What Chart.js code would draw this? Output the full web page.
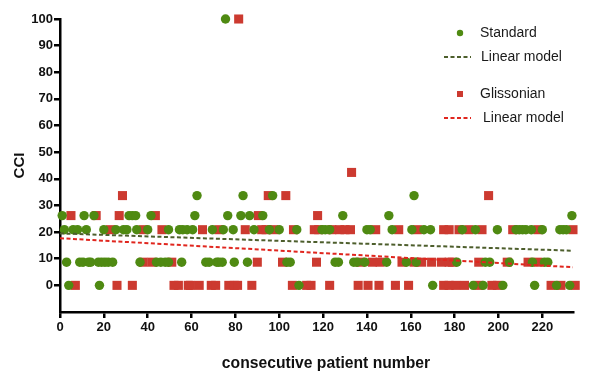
<!DOCTYPE html>
<html>
<head>
<meta charset="utf-8">
<script src="https://cdn.jsdelivr.net/npm/chart.js@4.4.0/dist/chart.umd.min.js"></script>
<style>
    html, body { margin: 0; padding: 0; background: #fff; }
    #wrap { width: 589px; height: 373px; position: relative; }
</style>
</head>
<body>
<div id="wrap"><canvas id="cci-chart"></canvas></div>
<script>
// CCI values that occur (rows of points)
const cciLevels = [0, 8.7, 20.9, 26.2, 33.7, 42.4, 100];

// consecutive patient numbers per CCI level, same order as cciLevels
const standardPatients = [
    [4, 18, 109, 170, 188.5, 193, 202, 216.5, 226.5, 232.5],
    [3, 9, 10.5, 13, 14, 17.5, 19, 20.5, 22, 24, 36.5, 44, 46, 48, 49.5, 55.5, 66.5, 68, 71.5, 72.5, 74, 79.5, 85.5,
        103.5, 105, 125.5, 127, 134, 135.5, 139, 149, 158, 162.5, 181, 194, 196, 205, 215.5, 221, 222.5],
    [2, 6, 8, 12, 20, 25.5, 29, 30.5, 35, 40, 49.5, 54.5, 56, 58, 60.5, 69.5, 74.5, 79, 88.5, 95.5, 100, 108,
        119.5, 121, 123, 140, 141.5, 151.5, 160.5, 166, 169, 183.5, 189.5, 199.5, 208, 209.5, 211, 212.5, 215,
        220, 228, 229.5, 231],
    [1, 11, 15.5, 31.5, 33, 34.5, 41.5, 61.5, 76.5, 82.5, 86.5, 92.5, 129, 150, 233.5],
    [62.5, 83.5, 97, 161.5],
    [],
    [75.5]
];
const glissonianPatients = [
    [7, 26, 33, 52, 54, 58.5, 59.5, 63.5, 69, 71, 77, 79.5, 81, 87.5, 106, 112.5, 114.5, 123, 136, 140.5, 145.5,
        153, 159, 175, 177.5, 180.5, 184.5, 191, 197, 199.5, 224, 228.5, 235],
    [38, 42, 51, 90, 101.5, 117, 137, 142.5, 146, 156, 161.5, 165, 169.5, 174, 177.5, 179, 191, 204, 213.5, 218],
    [23, 38, 46.5, 65, 72.5, 84.5, 92, 94, 97.5, 106.5, 116, 118, 124, 127.5, 130, 132.5, 144, 154.5, 163, 175,
        177.5, 182, 186.5, 192.5, 206.5, 218, 234],
    [5, 16.5, 27, 43.5, 90.5, 117.5],
    [28.5, 95, 103, 195.5],
    [133],
    [81.5]
];

// linear model end points
const trendX = [0, 234];
const standardTrend = [19.5, 13.0];
const glissonianTrend = [17.7, 6.8];

const xTicks = [0, 20, 40, 60, 80, 100, 120, 140, 160, 180, 200, 220];
const yTicks = [0, 10, 20, 30, 40, 50, 60, 70, 80, 90, 100];

const green = '#4f8a12';
const red = '#cc3a30';
const fontFamily = '"Liberation Sans", Arial, sans-serif';

function toPoints(groups) {
    let points = [];
    for (let i = 0; i < groups.length; i++) {
        for (const x of groups[i]) {
            points.push({x: x, y: cciLevels[i]});
        }
    }
    return points;
}

function toLine(values) {
    return trendX.map((x, i) => ({x: x, y: values[i]}));
}

// legend and x title drawn by hand, both sit off the default spots
const legendPlugin = {
    id: 'handLegend',
    afterDraw(chart) {
        const ctx = chart.ctx;
        ctx.save();
        ctx.textBaseline = 'middle';

        // x axis title, a bit right of the plot centre like the original
        ctx.font = 'bold 15.7px ' + fontFamily;
        ctx.fillStyle = '#111';
        ctx.textAlign = 'center';
        ctx.fillText('consecutive patient number', 326, 364);

        ctx.textAlign = 'left';
        ctx.font = '14px ' + fontFamily;

        ctx.beginPath();
        ctx.arc(460, 33, 3.2, 0, Math.PI * 2);
        ctx.fillStyle = green;
        ctx.fill();
        ctx.fillStyle = '#1a1a1a';
        ctx.fillText('Standard', 480, 33);

        ctx.setLineDash([4, 2.5]);
        ctx.lineWidth = 2;
        ctx.strokeStyle = '#4d5e2c';
        ctx.beginPath();
        ctx.moveTo(444, 57);
        ctx.lineTo(471, 57);
        ctx.stroke();
        ctx.fillText('Linear model', 481, 57);

        ctx.fillStyle = red;
        ctx.fillRect(457, 91, 6, 6);
        ctx.fillStyle = '#1a1a1a';
        ctx.fillText('Glissonian', 480, 94);

        ctx.strokeStyle = '#e0261e';
        ctx.beginPath();
        ctx.moveTo(444, 118);
        ctx.lineTo(471, 118);
        ctx.stroke();
        ctx.fillText('Linear model', 483, 118);
        ctx.restore();
    }
};

const tickFont = {family: fontFamily, size: 13, weight: 'bold'};
const titleFont = {family: fontFamily, size: 15, weight: 'bold'};

new Chart(document.querySelector('#cci-chart'), {
    type: 'scatter',
    data: {
        datasets: [
            {
                type: 'line',
                label: 'Linear model (Glissonian)',
                data: toLine(glissonianTrend),
                borderColor: '#e0261e',
                borderWidth: 2,
                borderDash: [4, 2.5],
                pointRadius: 0,
                fill: false,
                order: 1,
            },
            {
                type: 'line',
                label: 'Linear model (Standard)',
                data: toLine(standardTrend),
                borderColor: '#4d5e2c',
                borderWidth: 2,
                borderDash: [4, 2.5],
                pointRadius: 0,
                fill: false,
                order: 2,
            },
            {
                label: 'Standard',
                data: toPoints(standardPatients),
                pointStyle: 'circle',
                pointRadius: 4.7,
                pointBorderWidth: 0,
                backgroundColor: green,
                borderColor: green,
                order: 3,
            },
            {
                label: 'Glissonian',
                data: toPoints(glissonianPatients),
                pointStyle: 'rect',
                pointRadius: 6.4,
                pointBorderWidth: 0,
                backgroundColor: red,
                borderColor: red,
                order: 4,
            },
        ]
    },
    options: {
        responsive: true,
        maintainAspectRatio: false,
        animation: false,
        clip: false,
        layout: {padding: {top: 19, right: 16, left: 0, bottom: 0}},
        plugins: {
            legend: {display: false},
            tooltip: {enabled: false},
        },
        scales: {
            x: {
                type: 'linear',
                min: 0,
                max: 234,
                afterBuildTicks: (scale) => {
                    scale.ticks = xTicks.map((v) => ({value: v}));
                },
                afterFit: (scale) => {
                    scale.height = 61;
                },
                border: {display: true, color: '#000', width: 2.5},
                grid: {display: true, drawOnChartArea: false, drawTicks: true, tickLength: 6, color: '#000', lineWidth: 2.5},
                ticks: {color: '#111', font: tickFont, padding: 2, maxRotation: 0},
                title: {display: false},
            },
            y: {
                type: 'linear',
                min: -10,
                max: 100,
                afterBuildTicks: (scale) => {
                    scale.ticks = yTicks.map((v) => ({value: v}));
                },
                afterFit: (scale) => {
                    scale.width = 60;
                },
                border: {display: true, color: '#000', width: 2.5},
                grid: {display: true, drawOnChartArea: false, drawTicks: true, tickLength: 6, color: '#000', lineWidth: 2.5},
                ticks: {color: '#111', font: tickFont, padding: 1},
                title: {display: true, text: 'CCI', color: '#111', font: titleFont, padding: {top: 11, bottom: 0}},
            }
        }
    },
    plugins: [legendPlugin]
});
</script>
</body>
</html>
